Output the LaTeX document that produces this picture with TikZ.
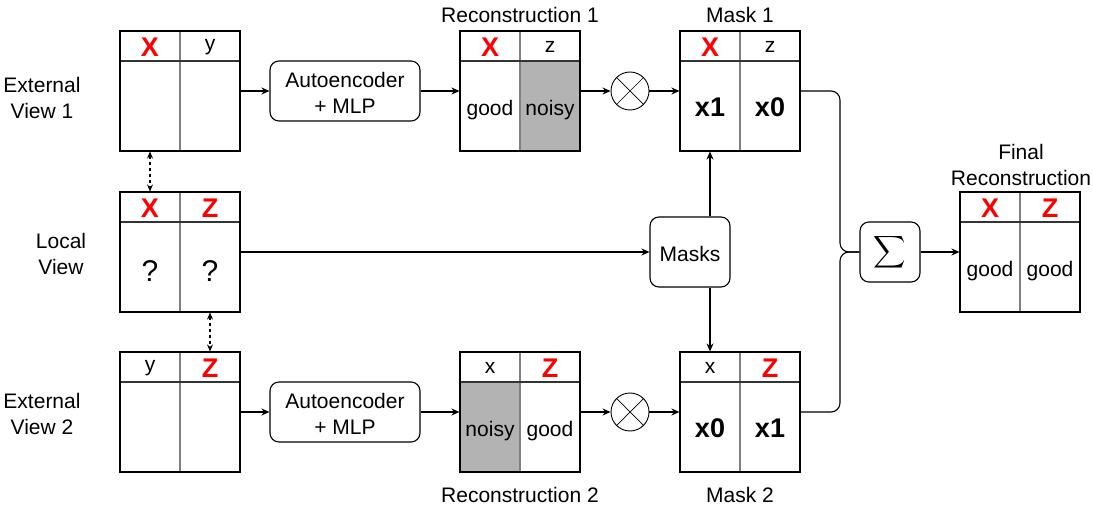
\documentclass[tikz,border=0pt]{standalone}
\usepackage{fontspec}
\usepackage{graphicx}
\setmainfont{Liberation Sans}
\usetikzlibrary{arrows.meta}
\definecolor{sepgray}{HTML}{808080}
\definecolor{noisygray}{HTML}{B3B3B3}
\definecolor{keyred}{HTML}{FF0000}
\tikzset{
  x=1pt, y=-1pt,
  every node/.style={font=\fontsize{21}{26}\selectfont},
  line/.style={line width=1.1pt, black},
  arr/.style={line, -{Stealth[length=8pt,width=7pt]}},
  darr/.style={line, dash pattern=on 3pt off 3pt, {Stealth[length=7pt,width=6pt]}-{Stealth[length=7pt,width=6pt]}},
  tblbox/.style={draw, line width=1.1pt, minimum width=120pt, minimum height=120pt, inner sep=0pt},
  hcell/.style={minimum width=60pt, minimum height=30pt, inner sep=0pt},
  bcell/.style={minimum width=60pt, minimum height=90pt, inner sep=0pt},
  btext/.style={inner sep=0pt},
  proc/.style={draw, line width=1.1pt, rounded corners=9pt, align=center, inner sep=0pt},
  lbl/.style={align=center, inner sep=0pt},
  hsep/.style={line width=1.1pt, black!80},
  vsep/.style={line width=1.1pt, sepgray},
  otimesnode/.style={draw, circle, line width=0.9pt, minimum size=38pt, inner sep=0pt},
}
% #1 name, #2 left x, #3 top y, #4 #5 header texts, #6 #7 body texts, #8 #9 fills
\newcommand\datatable[9]{%
  \node[bcell, fill=#8] (#1-b1) at (#2+30,#3+75) {};
  \node[bcell, fill=#9] (#1-b2) at (#2+90,#3+75) {};
  \node[btext] (#1-t1) at (#2+30,#3+79) {#6};
  \node[btext] (#1-t2) at (#2+90,#3+79) {#7};
  \node[hcell] (#1-h1) at (#2+30,#3+16) {#4};
  \node[hcell] (#1-h2) at (#2+90,#3+16) {#5};
  \draw[vsep] (#2+60,#3) -- (#2+60,#3+120);
  \draw[hsep] (#2,#3+30) -- (#2+120,#3+30);
  \node[tblbox] (#1) at (#2+60,#3+60) {};
}
\newcommand\keyX{\textcolor{keyred}{\fontsize{27}{27}\selectfont\bfseries X}}
\newcommand\keyZ{\textcolor{keyred}{\fontsize{27}{27}\selectfont\bfseries Z}}
\newcommand\bigt[1]{\raisebox{5pt}{\fontsize{27}{27}\selectfont\bfseries #1}}
\newcommand\qm{\raisebox{-1pt}{\fontsize{30}{30}\selectfont ?}}
\begin{document}
\begin{tikzpicture}
\useasboundingbox (0,0) rectangle (1093,505);

% labels
\node[lbl] (lext1) at (42,98) {External\\View 1};
\node[lbl] (lloc) at (61,254) {Local\\View};
\node[lbl] (lext2) at (42,414) {External\\View 2};
\node[lbl] (lrec1) at (520,15) {Reconstruction 1};
\node[lbl] (lmask1) at (740,15) {Mask 1};
\node[lbl] (lrec2) at (520,495) {Reconstruction 2};
\node[lbl] (lmask2) at (740,495) {Mask 2};
\node[lbl] (lfinal) at (1021,165) {Final\\Reconstruction};

% tables
\datatable{ext1}{120}{31}{\keyX}{y}{}{}{white}{white}
\datatable{local}{120}{192}{\keyX}{\keyZ}{\qm}{\qm}{white}{white}
\datatable{ext2}{120}{352}{y}{\keyZ}{}{}{white}{white}
\datatable{rec1}{460}{31}{\keyX}{z}{good}{noisy}{white}{noisygray}
\datatable{mask1}{680}{31}{\keyX}{z}{\bigt{x1}}{\bigt{x0}}{white}{white}
\datatable{rec2}{460}{352}{x}{\keyZ}{noisy}{good}{noisygray}{white}
\datatable{mask2}{680}{352}{x}{\keyZ}{\bigt{x0}}{\bigt{x1}}{white}{white}
\datatable{final}{960}{192}{\keyX}{\keyZ}{good}{good}{white}{white}

% processes
\node[proc, minimum width=150pt, minimum height=60pt] (ae1) at (345,91) {};
\node[lbl] (ae1t) at (345,93) {Autoencoder\\+ MLP};
\node[proc, minimum width=150pt, minimum height=60pt] (ae2) at (345,412) {};
\node[lbl] (ae2t) at (345,414) {Autoencoder\\+ MLP};
\node[proc, minimum width=80pt, minimum height=70pt] (masks) at (690,252) {};
\node[lbl] (maskst) at (690,254) {Masks};
\node[proc, minimum width=60pt, minimum height=60pt] (sig) at (890,252) {};
\node[lbl] (sigt) at (890,252) {\scalebox{2.25}{$\displaystyle\sum$}};

% otimes
\node[otimesnode] (ot1) at (630,91) {};
\draw[line width=0.7pt] (ot1.45) -- (ot1.225) (ot1.135) -- (ot1.315);
\node[otimesnode] (ot2) at (630,412) {};
\draw[line width=0.7pt] (ot2.45) -- (ot2.225) (ot2.135) -- (ot2.315);

% connectors
\draw[arr] (ext1) -- (ae1);
\draw[arr] (ae1) -- (rec1);
\draw[arr] (rec1) -- (ot1);
\draw[arr] (ot1) -- (mask1);
\draw[arr] (ext2) -- (ae2);
\draw[arr] (ae2) -- (rec2);
\draw[arr] (rec2) -- (ot2);
\draw[arr] (ot2) -- (mask2);
\draw[arr] (local) -- (masks);
\draw[arr] ([xshift=20pt]masks.north) -- ([xshift=20pt]masks.north |- mask1.south);
\draw[arr] ([xshift=20pt]masks.south) -- ([xshift=20pt]masks.south |- mask2.north);
\draw[darr] ([xshift=-30pt]ext1.south) -- ([xshift=-30pt]local.north);
\draw[darr] ([xshift=30pt]local.south) -- ([xshift=30pt]ext2.north);

\coordinate (brk) at (840,252);
\draw[line, rounded corners=9pt] (mask1.east) -| (brk) -- (sig.west);
\draw[line, rounded corners=9pt] (mask2.east) -| (brk) -- (sig.west);
\draw[arr] (sig) -- (final);
\end{tikzpicture}
\end{document}
